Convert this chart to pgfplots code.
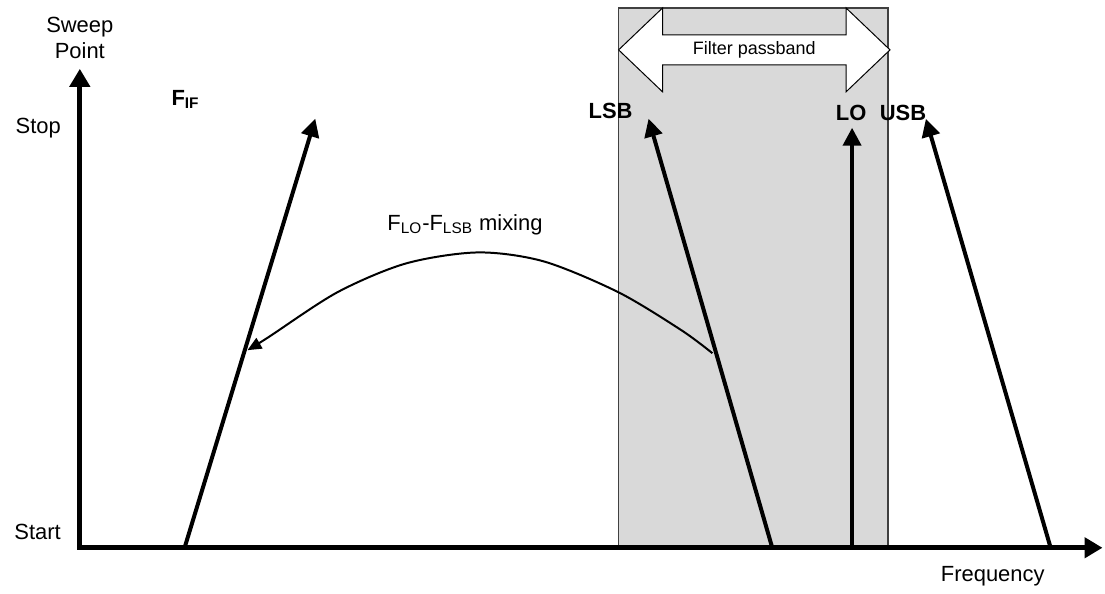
\documentclass[border=0pt]{standalone}
\usepackage{fontspec}
\setmainfont{Liberation Sans}
\usepackage{pgfplots}
\pgfplotsset{compat=1.18}
\usetikzlibrary{arrows.meta}
\definecolor{boxgray}{RGB}{217,217,217}
\begin{document}
\begin{tikzpicture}
\begin{axis}[
  scale only axis, width=512.5pt, height=240pt,
  xmin=80, xmax=1105, ymin=43, ymax=523,
  axis lines=left, axis on top, clip=false,
  axis line style={line width=2.5pt, line cap=rect, -{Triangle[length=9pt,width=10pt]}},
  xtick=\empty, ytick={59,464}, yticklabels={Start,Stop},
  major tick length=0pt,
  tick label style={font=\fontsize{11}{13}\selectfont},
  label style={font=\fontsize{11}{13}\selectfont},
  yticklabel style={xshift=-6pt},
  xlabel={Frequency}, xlabel style={at={(axis cs:995,14)}, anchor=center},
  ylabel={Sweep\\Point}, ylabel style={rotate=-90, at={(axis cs:80,526)}, anchor=south, align=center},
]
% whole canvas, so the page keeps the reference margins
\path (axis cs:0,0) rectangle (axis cs:1105,592);

% filter box
\addplot[fill=boxgray, draw=black!75, line width=0.6pt] coordinates {(620,43) (890,43) (890,584) (620,584)} -- cycle;
% passband double arrow
\addplot[fill=white, draw=black, line width=0.5pt] coordinates {
  (620,542) (664,584) (664,557) (848,557) (848,584) (892,542)
  (848,500) (848,527) (664,527) (664,500)} -- cycle;
\node[font=\fontsize{9}{11}\selectfont] at (axis cs:756,542) {Filter passband};

% sweeps
\addplot[line width=2pt, -{Triangle[length=9pt,width=9pt]}] coordinates {(185,43) (316,473)};
\addplot[line width=2pt, -{Triangle[length=9pt,width=9pt]}] coordinates {(774,43) (650,473)};
\addplot[line width=2pt, -{Triangle[length=9pt,width=9pt]}] coordinates {(854,43) (854,464)};
\addplot[line width=2pt, -{Triangle[length=9pt,width=9pt]}] coordinates {(1053,43) (928,473)};

% mixing curve
\addplot[line width=1pt, smooth, -{Triangle[length=7pt,width=6pt]}] coordinates {
  (714,238) (683,261) (620,299) (545,330) (479,339) (407,328) (338,299) (269,254) (248,241)};

\node[font=\fontsize{11}{13}\selectfont\bfseries] at (axis cs:186,492) {F\textsubscript{IF}};
\node[font=\fontsize{11}{13}\selectfont\bfseries] at (axis cs:612,481) {LSB};
\node[font=\fontsize{11}{13}\selectfont\bfseries] at (axis cs:853,479) {LO};
\node[font=\fontsize{11}{13}\selectfont\bfseries] at (axis cs:905,479) {USB};
\node[font=\fontsize{11}{13}\selectfont] at (axis cs:466,367) {F\textsubscript{LO}-F\textsubscript{LSB} mixing};
\end{axis}
\end{tikzpicture}
\end{document}
